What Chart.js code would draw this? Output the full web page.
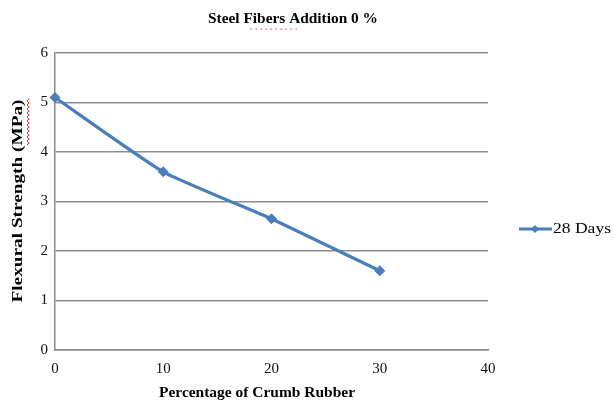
<!DOCTYPE html>
<html>
<head>
<meta charset="utf-8">
<script src="https://cdn.jsdelivr.net/npm/chart.js@4/dist/chart.umd.min.js"></script>
<style>
  html, body { margin: 0; padding: 0; background: #fff; }
  #wrap { width: 614px; height: 407px; }
</style>
</head>
<body>
<div id="wrap"><canvas id="c" width="614" height="407"></canvas></div>
<script>
// Crumb rubber percentage vs. flexural strength at 28 days
const rubberPct = [0, 10, 20, 30];
const strength28 = [5.1, 3.6, 2.65, 1.6];
const seriesName = '28 Days';
const chartTitle = 'Steel Fibers Addition 0 %';
const xTitle = 'Percentage of Crumb Rubber';
const yTitle = 'Flexural Strength (MPa)';

const BLUE = '#4A7EBB';
const GRID = '#8C8C8C';
const SERIF = '"Liberation Serif", "DejaVu Serif", serif';

// Draw a string centred on (cx, cy), stretched horizontally to a given width
function fitText(ctx, text, cx, cy, font, width, angle) {
  ctx.save();
  ctx.font = font;
  const w = ctx.measureText(text).width;
  ctx.translate(cx, cy);
  if (angle) ctx.rotate(angle);
  ctx.scale(width / w, 1);
  ctx.textAlign = 'center';
  ctx.textBaseline = 'middle';
  ctx.fillStyle = '#000';
  ctx.fillText(text, 0, 0);
  ctx.restore();
}

// Red proofing squiggle (dotted or wavy) along a straight segment
function squiggle(ctx, x0, y0, x1, y1, dotted) {
  ctx.save();
  ctx.strokeStyle = '#E8302A';
  ctx.lineWidth = 1;
  const len = Math.hypot(x1 - x0, y1 - y0);
  const ux = (x1 - x0) / len, uy = (y1 - y0) / len;
  const nx = -uy, ny = ux;
  if (dotted) {
    ctx.fillStyle = '#E8302A';
    for (let d = 0; d <= len; d += 5) ctx.fillRect(x0 + ux * d - 0.5, y0 + uy * d - 0.5, 1.2, 1.2);
  } else {
    ctx.beginPath();
    for (let d = 0; d <= len; d += 2) {
      const o = (Math.floor(d / 2) % 2 ? 1 : -1);
      const px = x0 + ux * d + nx * o, py = y0 + uy * d + ny * o;
      if (d === 0) ctx.moveTo(px, py); else ctx.lineTo(px, py);
    }
    ctx.stroke();
  }
  ctx.restore();
}

// Titles, legend entry and proofing marks
const annotations = {
  id: 'annotations',
  afterDraw(chart) {
    const ctx = chart.ctx;
    const ds = chart.data.datasets[0];
    const bold = 'bold 15px ' + SERIF;

    fitText(ctx, chartTitle, 293, 19, bold, 170);
    squiggle(ctx, 251, 29, 297, 29, true);

    fitText(ctx, xTitle, 257, 393, bold, 196);

    fitText(ctx, yTitle, 18, 201, 'bold 14px ' + SERIF, 203, -Math.PI / 2);
    squiggle(ctx, 28, 99, 28, 145, false);

    // legend: line with diamond marker, then the series name
    const y = 229, x0 = 519, x1 = 552;
    ctx.save();
    ctx.strokeStyle = ds.borderColor;
    ctx.lineWidth = 3;
    ctx.beginPath(); ctx.moveTo(x0, y); ctx.lineTo(x1, y); ctx.stroke();
    ctx.fillStyle = ds.borderColor;
    const mx = 535, r = 4;
    ctx.beginPath();
    ctx.moveTo(mx, y - r); ctx.lineTo(mx + r, y); ctx.lineTo(mx, y + r); ctx.lineTo(mx - r, y);
    ctx.closePath(); ctx.fill();
    ctx.restore();
    fitText(ctx, ds.label, 553 + 29, y, '15px ' + SERIF, 58);
  }
};

new Chart(document.getElementById('c'), {
  type: 'line',
  data: {
    datasets: [{
      label: seriesName,
      data: rubberPct.map((x, i) => ({ x, y: strength28[i] })),
      borderColor: BLUE,
      backgroundColor: BLUE,
      borderWidth: 3.2,
      pointStyle: 'rectRot',
      pointRadius: 5,
      pointBorderWidth: 1,
      pointHoverRadius: 5,
      tension: 0.15,
      clip: false
    }]
  },
  options: {
    responsive: false,
    animation: false,
    layout: { padding: { top: 53, right: 126, bottom: 0, left: 0 } },
    plugins: {
      legend: { display: false },
      tooltip: { enabled: false },
      title: { display: false }
    },
    scales: {
      x: {
        type: 'linear',
        min: 0, max: 40,
        afterFit(s) { s.height = 57; },
        ticks: { stepSize: 10, color: '#111', font: { family: SERIF, size: 15 }, padding: 10 },
        grid: { display: false, drawTicks: false },
        border: { color: GRID, width: 1.5 }
      },
      y: {
        min: 0, max: 6,
        afterFit(s) { s.width = 55; },
        ticks: { stepSize: 1, color: '#111', font: { family: SERIF, size: 15 }, padding: 7 },
        grid: { color: GRID, lineWidth: 1.5, drawTicks: false },
        border: { color: GRID, width: 1.5 }
      }
    }
  },
  plugins: [annotations]
});
</script>
</body>
</html>
